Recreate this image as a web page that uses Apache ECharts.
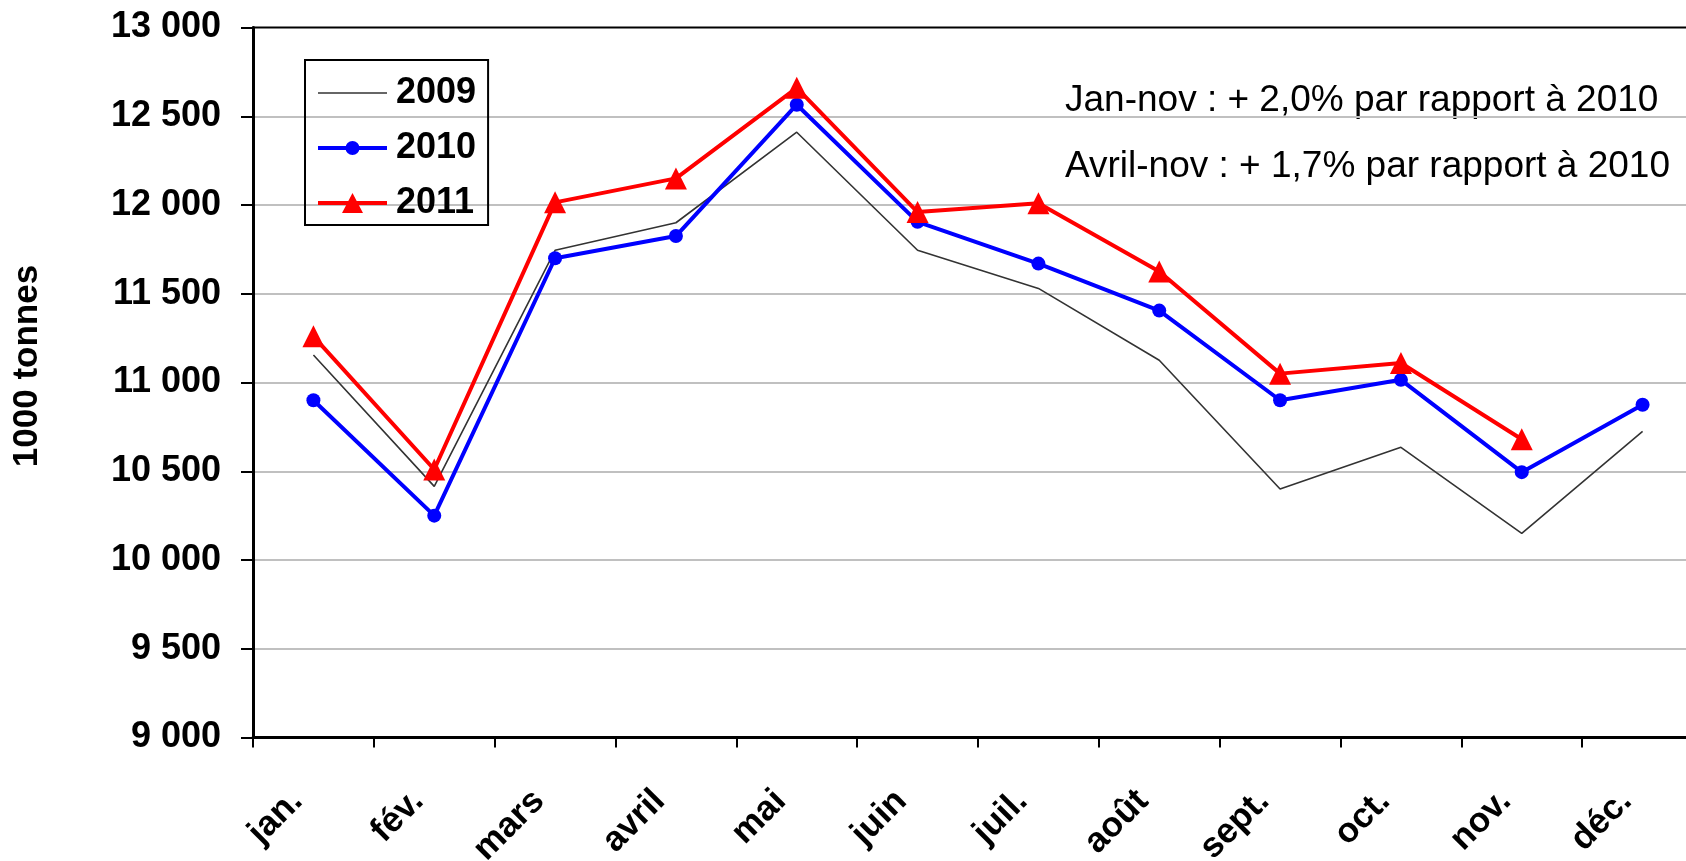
<!DOCTYPE html>
<html>
<head>
<meta charset="utf-8">
<script src="https://cdn.jsdelivr.net/npm/echarts@6/dist/echarts.min.js"></script>
<style>
  html, body { margin: 0; padding: 0; background: #fff; }
  #chart { width: 1686px; height: 861px; }
</style>
</head>
<body>
<div id="chart"></div>
<script>
const months = ["jan.", "fév.", "mars", "avril", "mai", "juin", "juil.", "août", "sept.", "oct.", "nov.", "déc."];
const data2009 = [11155, 10415, 11745, 11900, 12410, 11745, 11530, 11125, 10400, 10635, 10150, 10725];
const data2010 = [10900, 10250, 11700, 11825, 12565, 11905, 11670, 11405, 10900, 11015, 10495, 10875];
const data2011 = [11260, 10510, 12015, 12150, 12660, 11960, 12010, 11625, 11050, 11110, 10680, null];
const yMin = 9000;
const yMax = 13000;
const yStep = 500;
const notes = ["Jan-nov : + 2,0% par rapport à 2010", "Avril-nov : + 1,7% par rapport à 2010"];

const FONT = "'Liberation Sans', Arial, sans-serif";

// legend icons drawn at 69x20 (line + marker), like the Excel legend keys
const iconThin = "path://M0,9.25L69,9.25L69,10.75L0,10.75Z";
const iconCircle = "path://M0,8L69,8L69,12L0,12Z M41.5,10A7,7 0 1,1 27.5,10A7,7 0 1,1 41.5,10Z";
const iconTriangle = "path://M0,8L69,8L69,12L0,12Z M34.5,0L45,20L24,20Z";

function fmtThousands(v) {
  return String(v).replace(/\B(?=(\d{3})+(?!\d))/g, " ");
}

const chart = echarts.init(document.getElementById("chart"));

const option = {
  animation: false,
  backgroundColor: "#fff",
  textStyle: { fontFamily: FONT },
  grid: {
    left: 253,
    top: 27.5,
    width: 1450,
    height: 710,
    show: true,
    borderColor: "#000",
    borderWidth: 2,
    containLabel: false,
    outerBoundsMode: "none",
  },
  legend: {
    orient: "vertical",
    left: 305,
    top: 60,
    padding: [13, 12, 2, 13],
    borderColor: "#000",
    borderWidth: 2,
    itemWidth: 69,
    itemHeight: 20,
    itemGap: 15,
    textStyle: {
      fontFamily: FONT,
      fontSize: 36,
      fontWeight: "bold",
      color: "#000",
      lineHeight: 40,
      padding: [0, 0, 0, 4],
    },
    data: [
      { name: "2009", icon: iconThin },
      { name: "2010", icon: iconCircle },
      { name: "2011", icon: iconTriangle },
    ],
  },
  xAxis: {
    type: "category",
    data: months,
    boundaryGap: true,
    axisLine: { lineStyle: { color: "#000", width: 3 } },
    axisTick: { show: true, length: 10, lineStyle: { color: "#000", width: 2 } },
    axisLabel: {
      rotate: 45,
      margin: 42,
      padding: [0, 23, 0, 0],
      interval: 0,
      color: "#000",
      fontFamily: FONT,
      fontSize: 35,
      fontWeight: "bold",
    },
    splitLine: { show: false },
  },
  yAxis: {
    type: "value",
    min: yMin,
    max: yMax,
    interval: yStep,
    axisLine: { show: true, lineStyle: { color: "#000", width: 3 } },
    axisTick: { show: true, length: 12, lineStyle: { color: "#000", width: 2 } },
    axisLabel: {
      margin: 32,
      color: "#000",
      fontFamily: FONT,
      fontSize: 36,
      fontWeight: "bold",
      formatter: fmtThousands,
    },
    splitLine: {
      show: true,
      showMinLine: false,
      showMaxLine: false,
      lineStyle: { color: "#c0c0c0", width: 2 },
    },
  },
  graphic: [
    {
      type: "text",
      x: 27,
      y: 366,
      rotation: Math.PI / 2,
      style: {
        text: "1000 tonnes",
        font: "bold 35px " + FONT,
        fill: "#000",
        align: "center",
        verticalAlign: "middle",
      },
    },
    {
      type: "text",
      x: 1065,
      y: 100.5,
      style: {
        text: notes[0],
        font: "37px " + FONT,
        fill: "#000",
        align: "left",
        verticalAlign: "middle",
      },
    },
    {
      type: "text",
      x: 1065,
      y: 167,
      style: {
        text: notes[1],
        font: "37px " + FONT,
        fill: "#000",
        align: "left",
        verticalAlign: "middle",
      },
    },
  ],
  series: [
    {
      name: "2009",
      type: "line",
      data: data2009,
      symbol: "none",
      lineStyle: { color: "#333", width: 1.6 },
      itemStyle: { color: "#333" },
      z: 2,
    },
    {
      name: "2010",
      type: "line",
      data: data2010,
      symbol: "circle",
      symbolSize: 14,
      lineStyle: { color: "#0000ff", width: 4 },
      itemStyle: { color: "#0000ff" },
      z: 3,
    },
    {
      name: "2011",
      type: "line",
      data: data2011,
      symbol: "triangle",
      symbolSize: 22,
      lineStyle: { color: "#ff0000", width: 4 },
      itemStyle: { color: "#ff0000" },
      z: 4,
    },
  ],
};

chart.setOption(option);
</script>
</body>
</html>
